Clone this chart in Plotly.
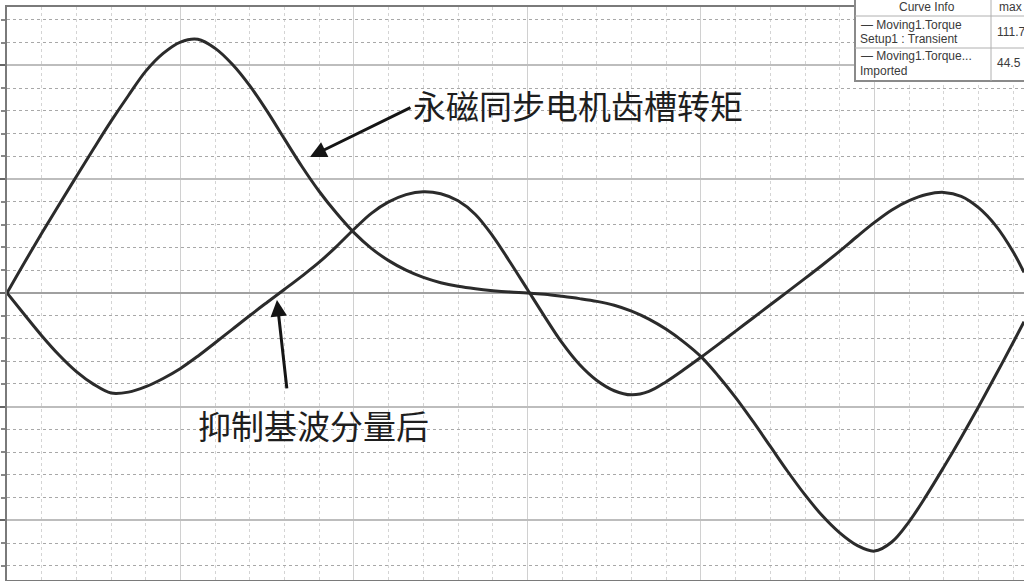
import plotly.graph_objects as go

# Rotor position (deg) and cogging torque (mNm)
pos = [0, 0.5, 1, 1.5, 2, 2.5, 3, 3.5, 4, 4.5, 5, 5.5, 6, 6.5, 7, 7.5, 8, 8.5, 9, 9.5,
       10, 10.5, 11, 11.5, 12, 12.5, 13, 13.5, 14, 14.5, 15, 15.5, 16, 16.5, 17, 17.5,
       18, 18.5, 19, 19.5, 20, 20.5, 21, 21.5, 22, 22.5, 23, 23.5, 24, 24.5, 25, 25.5,
       26, 26.5, 27, 27.5, 28, 28.5, 29, 29.31]
torque_a = [0, 13.3, 26.2, 38.8, 51.2, 63.5, 75.5, 86.8, 97.5, 105.3, 110.3, 111.5, 107.5,
            100.4, 91, 79.8, 67.6, 55.6, 44.6, 35, 26.5, 19.6, 14.2, 10, 6.8, 4.5, 2.9, 1.8,
            1.0, 0.4, 0, -0.6, -1.5, -2.5, -3.7, -5.4, -8, -11.5, -16, -21.5, -28, -36.5,
            -46, -56.5, -67.5, -78.5, -88.8, -98, -105.5, -111, -113.5, -109.5, -100.5, -89,
            -76.5, -63.5, -50, -36, -21.7, -12.7]
torque_b = [0, -9.5, -18.8, -27.3, -34.6, -40.2, -44, -43.6, -41.2, -37.6, -33.2, -27.8,
            -21.9, -15.9, -9.9, -4.1, 1.6, 7.4, 13.5, 20.5, 28, 35, 40, 43.2, 44.5, 43.6,
            40.5, 34.5, 25, 13.5, 1.5, -10.5, -22, -31.5, -38.5, -43, -44.8, -43.3, -39,
            -33.8, -28.3, -22.6, -16.8, -11, -5.2, 0.6, 6.4, 12.3, 18.4, 24.8, 31, 36.5,
            40.6, 43.3, 44.2, 42.5, 37.5, 29.5, 18, 9]

label_a = "永磁同步电机齿槽转矩"
label_b = "抑制基波分量后"
legend_rows = [("— Moving1.Torque", "Setup1 : Transient", "111.7"),
               ("— Moving1.Torque...", "Imported", "44.5")]

W, H = 1024, 581
L, R, T, B = 7, 0, 7, 1
pw, ph = W - L - R, H - T - B


def px(x):
    return (x - L) / pw


def py(y):
    return (H - B - y) / ph


fig = go.Figure()
line_col = "#2b2b2b"
for ys in (torque_a, torque_b):
    fig.add_trace(go.Scatter(x=pos, y=ys, mode="lines",
                             line=dict(color=line_col, width=3, shape="spline", smoothing=1.0),
                             showlegend=False, hoverinfo="skip"))

cjk = "Noto Sans CJK SC, Noto Sans, sans-serif"
annotations = [
    dict(x=8.73, y=59.8, ax=11.67, ay=81.8, xref="x", yref="y", axref="x", ayref="y",
         text="", showarrow=True, arrowhead=2, arrowsize=1.1, arrowwidth=3, arrowcolor="#151515"),
    dict(x=7.78, y=-3.1, ax=8.07, ay=-42.6, xref="x", yref="y", axref="x", ayref="y",
         text="", showarrow=True, arrowhead=2, arrowsize=1.1, arrowwidth=3, arrowcolor="#151515"),
    dict(x=px(578), y=py(105), xref="paper", yref="paper", text=label_a, showarrow=False,
         font=dict(family=cjk, size=33, color="#1e1e1e"), xanchor="center", yanchor="middle"),
    dict(x=px(313), y=py(425), xref="paper", yref="paper", text=label_b, showarrow=False,
         font=dict(family=cjk, size=33, color="#1e1e1e"), xanchor="center", yanchor="middle"),
]

small = "Liberation Sans Narrow, Arial Narrow, Liberation Sans, sans-serif"
sfont = dict(family=small, size=12, color="#3a3a3a")
annotations.append(dict(x=px(927), y=py(7), xref="paper", yref="paper", text="Curve Info",
                        showarrow=False, font=sfont, xanchor="center", yanchor="middle"))
annotations.append(dict(x=px(997), y=py(7), xref="paper", yref="paper", text="max",
                        showarrow=False, font=sfont, xanchor="left", yanchor="middle"))
row_y = [(25, 39, 32), (56, 71, 63)]
for (l1, l2, val), (y1, y2, yv) in zip(legend_rows, row_y):
    annotations.append(dict(x=px(859), y=py(y1), xref="paper", yref="paper", text=l1,
                            showarrow=False, font=sfont, xanchor="left", yanchor="middle"))
    annotations.append(dict(x=px(858), y=py(y2), xref="paper", yref="paper", text=l2,
                            showarrow=False, font=sfont, xanchor="left", yanchor="middle"))
    annotations.append(dict(x=px(995), y=py(yv), xref="paper", yref="paper", text=val,
                            showarrow=False, font=sfont, xanchor="left", yanchor="middle"))

shapes = [
    dict(type="rect", xref="paper", yref="paper", x0=px(855), x1=px(1030), y0=py(81), y1=py(-5),
         line=dict(color="#8a8a8a", width=2), fillcolor="white", layer="above"),
    dict(type="line", xref="paper", yref="paper", x0=px(855), x1=px(1030), y0=py(16), y1=py(16),
         line=dict(color="#b0b0b0", width=1), layer="above"),
    dict(type="line", xref="paper", yref="paper", x0=px(855), x1=px(1030), y0=py(48), y1=py(48),
         line=dict(color="#b0b0b0", width=1), layer="above"),
    dict(type="line", xref="paper", yref="paper", x0=px(991), x1=px(991), y0=py(81), y1=py(-5),
         line=dict(color="#b0b0b0", width=1), layer="above"),
]

fig.update_layout(
    width=W, height=H,
    margin=dict(l=L, r=R, t=T, b=B),
    paper_bgcolor="white", plot_bgcolor="white",
    annotations=annotations, shapes=shapes,
    xaxis=dict(range=[0, 29.31], dtick=5, tick0=0, showticklabels=False, ticks="",
               showgrid=True, gridcolor="#d0d0d0", gridwidth=1,
               minor=dict(dtick=1, showgrid=True, gridcolor="#d4d4d4", griddash="dot", gridwidth=1),
               zeroline=False, showline=True, mirror=True, linecolor="#7a7a7a", linewidth=2),
    yaxis=dict(range=[-126.2, 125.7], dtick=50, tick0=0, showticklabels=False,
               ticks="outside", ticklen=7, tickcolor="#666", tickwidth=1.5,
               showgrid=True, gridcolor="#bdbdbd", gridwidth=1.5,
               minor=dict(dtick=10, showgrid=True, gridcolor="#a8a8a8", griddash="dot",
                          gridwidth=1, ticks="outside", ticklen=4, tickcolor="#888"),
               zeroline=True, zerolinecolor="#a0a0a0", zerolinewidth=1.5,
               showline=True, mirror=False, linecolor="#7a7a7a", linewidth=2),
)

fig.write_html("out.html", config={"displayModeBar": False},
               post_script="document.body.style.margin='0px';document.body.style.overflow='hidden';")
